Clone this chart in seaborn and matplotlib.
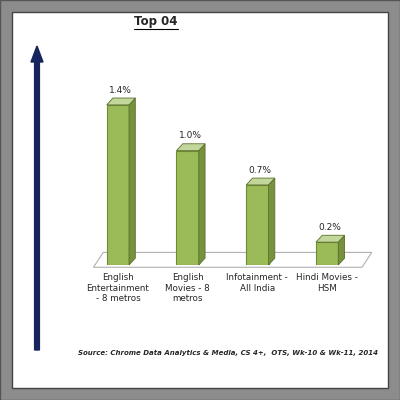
import matplotlib
matplotlib.use("Agg")
import matplotlib.pyplot as plt
import seaborn as sns
import pandas as pd
from matplotlib.patches import Polygon, Rectangle, FancyArrow

categories = ["English\nEntertainment\n- 8 metros", "English\nMovies - 8\nmetros", "Infotainment -\nAll India", "Hindi Movies -\nHSM"]
values = [1.4, 1.0, 0.7, 0.2]
labels = ["1.4%", "1.0%", "0.7%", "0.2%"]
title = "Top 04"
source = "Source: Chrome Data Analytics & Media, CS 4+,  OTS, Wk-10 & Wk-11, 2014"

sns.set_style("white")
plt.rcParams['font.family'] = ['DejaVu Sans']
fig = plt.figure(figsize=(4, 4), dpi=100)
fig.patches.append(Rectangle((0, 0), 1, 1, transform=fig.transFigure, facecolor="#8c8c8c", edgecolor="#555555", lw=1, zorder=-2))
fig.patches.append(Rectangle((0.03, 0.03), 0.94, 0.94, transform=fig.transFigure, facecolor="white", edgecolor="#444444", lw=1, zorder=-1))

ax = fig.add_axes([0.2075, 0.3375, 0.6975, 0.4575])
df = pd.DataFrame({"cat": categories, "val": values})
sns.barplot(data=df, x="cat", y="val", ax=ax, color="#9bbb59", width=0.32, edgecolor="#6e8a33", linewidth=0.8, saturation=1, zorder=3)
ax.set_ylim(0, 1.6)
ax.set_xlim(-0.5, 3.5)
for s in ax.spines.values():
    s.set_visible(False)
ax.set_yticks([])
ax.set_xlabel(""); ax.set_ylabel("")
ax.tick_params(axis="x", length=0, pad=6, labelsize=6.3)

bars = [q for q in ax.patches if isinstance(q, Rectangle)]
dx, dy = 0.14, 0.11
ax.add_patch(Polygon([(-0.35, -0.02), (3.5, -0.02), (3.5 + dx, dy), (-0.35 + dx, dy)], closed=True, facecolor="white", edgecolor="#b0b0b0", lw=0.8, zorder=1, clip_on=False))
bdx, bdy = 0.09, 0.06
for p, lab in zip(bars, labels):
    x0, w, h = p.get_x(), p.get_width(), p.get_height()
    ax.add_patch(Polygon([(x0 + w, 0), (x0 + w + bdx, bdy), (x0 + w + bdx, h + bdy), (x0 + w, h)], facecolor="#76923c", edgecolor="#5a702c", lw=0.6, zorder=3, clip_on=False))
    ax.add_patch(Polygon([(x0, h), (x0 + w, h), (x0 + w + bdx, h + bdy), (x0 + bdx, h + bdy)], facecolor="#c3d69b", edgecolor="#5a702c", lw=0.6, zorder=3, clip_on=False))
    ax.text(x0 + w / 2 + 0.04, h + bdy + 0.03, lab, ha="center", va="bottom", fontsize=6.5, zorder=4)

fig.text(0.39, 0.945, title, ha="center", va="center", fontsize=8.5, fontweight="bold")
fig.add_artist(plt.Line2D([0.335, 0.445], [0.928, 0.928], transform=fig.transFigure, color="black", lw=0.8))
fig.patches.append(FancyArrow(0.0925, 0.125, 0, 0.72, width=0.012, head_width=0.03, head_length=0.04, transform=fig.transFigure, color="#17255e"))
fig.text(0.57, 0.118, source, ha="center", va="center", fontsize=5, fontstyle="italic", fontweight="bold")
fig.savefig("out.png", dpi=100)
